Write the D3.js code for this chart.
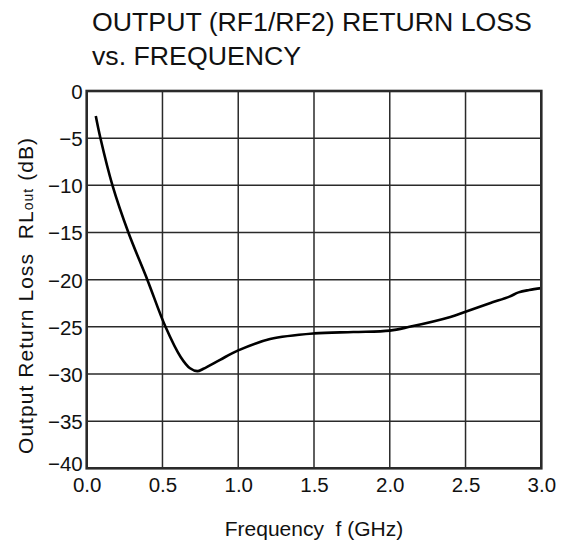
<!DOCTYPE html>
<html>
<head>
<meta charset="utf-8">
<script src="https://cdn.jsdelivr.net/npm/d3@7"></script>
<style>
  html, body { margin: 0; padding: 0; background: #fff; }
  svg { display: block; font-family: "Liberation Sans", Arial, Helvetica, sans-serif; }
</style>
</head>
<body>
<svg id="chart" width="567" height="542"></svg>
<script>
// ---- data ----
const titleLines = ["OUTPUT (RF1/RF2) RETURN LOSS", "vs. FREQUENCY"];
const xTicks = [0.0, 0.5, 1.0, 1.5, 2.0, 2.5, 3.0];
const yTicks = [0, -5, -10, -15, -20, -25, -30, -35, -40];
const freqGHz = [0.06, 0.09, 0.17, 0.275, 0.40, 0.52, 0.62, 0.682, 0.73, 0.77, 0.88, 1.0, 1.21, 1.5, 1.76, 2.0, 2.13, 2.4, 2.5, 2.66, 2.79, 2.85, 2.92, 3.0];
const rlOut   = [-2.65, -4.95, -10.0, -15.0, -20.0, -25.0, -28.2, -29.4, -29.7, -29.45, -28.5, -27.5, -26.3, -25.7, -25.55, -25.4, -25.0, -23.95, -23.4, -22.5, -21.8, -21.35, -21.1, -20.9];

// ---- layout ----
const L = 86.7, R = 541.3, T = 91, B = 468.3;
const svg = d3.select("#chart");
const x = d3.scaleLinear().domain([0, 3]).range([L, R]);
const y = d3.scaleLinear().domain([-40, 0]).range([B, T]);
const ink = "#2a2a2a";

// title
svg.append("text").attr("x", 92).attr("y", 31).attr("font-size", 26.7).attr("fill", "#111")
  .selectAll("tspan").data(titleLines).join("tspan")
  .attr("x", 92).attr("dy", (d, i) => i === 0 ? 0 : 34).text(d => d);

// grid
const grid = svg.append("g").attr("stroke", ink).attr("stroke-width", 1.5);
grid.selectAll(".vx").data(xTicks.slice(1, -1)).join("line")
  .attr("x1", d => x(d)).attr("x2", d => x(d)).attr("y1", T).attr("y2", B);
grid.selectAll(".hy").data(yTicks.slice(1, -1)).join("line")
  .attr("y1", d => y(d)).attr("y2", d => y(d)).attr("x1", L).attr("x2", R);

// axes (labels only, ticks hidden)
const xAxis = d3.axisBottom(x).tickValues(xTicks).tickFormat(d3.format(".1f")).tickSize(0).tickPadding(9);
const yAxis = d3.axisLeft(y).tickValues(yTicks).tickFormat(d3.format("d")).tickSize(0).tickPadding(4);
const gx = svg.append("g").attr("transform", `translate(0,${B})`).call(xAxis);
const gy = svg.append("g").attr("transform", `translate(${L},0)`).call(yAxis);
[gx, gy].forEach(g => {
  g.select(".domain").remove();
  g.selectAll("text").attr("font-size", 20.5).attr("fill", "#111")
    .attr("font-family", '"Liberation Sans", Arial, Helvetica, sans-serif');
});
gy.selectAll("text").attr("dy", d => d === -40 ? "0.12em" : "0.36em");

// curve
const pts = freqGHz.map((f, i) => [f, rlOut[i]]);
const line = d3.line().x(d => x(d[0])).y(d => y(d[1])).curve(d3.curveCatmullRom.alpha(0.5));
svg.append("path").datum(pts).attr("d", line)
  .attr("fill", "none").attr("stroke", "#000").attr("stroke-width", 2.6)
  .attr("stroke-linejoin", "round").attr("stroke-linecap", "butt");

// frame
svg.append("rect").attr("x", L).attr("y", T).attr("width", R - L).attr("height", B - T)
  .attr("fill", "none").attr("stroke", ink).attr("stroke-width", 2.6);

// x title
svg.append("text").attr("x", (L + R) / 2).attr("y", 536).attr("text-anchor", "middle")
  .attr("font-size", 21).attr("fill", "#111").attr("xml:space", "preserve")
  .text("Frequency  f (GHz)");

// y title
const yt = svg.append("text").attr("transform", "translate(33,296) rotate(-90)")
  .attr("text-anchor", "middle").attr("font-size", 21).attr("fill", "#111")
  .attr("xml:space", "preserve").attr("textLength", 316).attr("lengthAdjust", "spacing");
yt.append("tspan").text("Output Return Loss  RL");
yt.append("tspan").attr("font-size", 14).text("out");
yt.append("tspan").text(" (dB)");
</script>
</body>
</html>
